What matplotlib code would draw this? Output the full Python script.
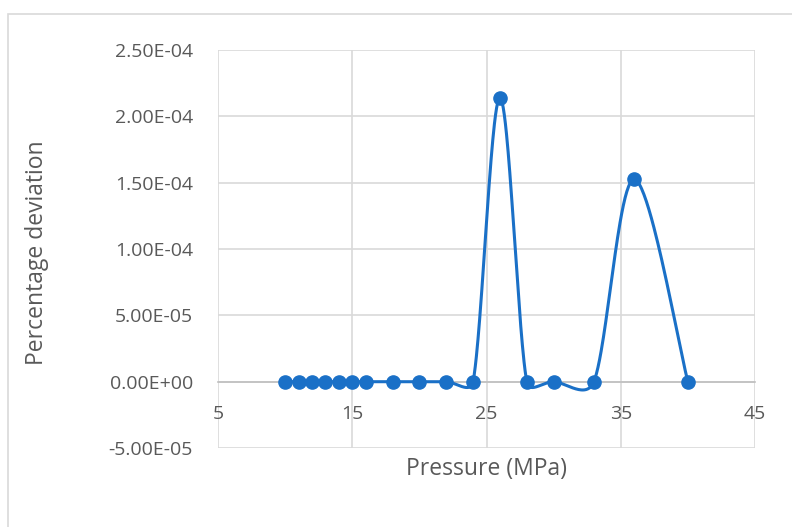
import numpy as np
import matplotlib
matplotlib.use('Agg')
import matplotlib.pyplot as plt
from matplotlib.ticker import FuncFormatter, MultipleLocator
from matplotlib.patches import Rectangle

# данные с картинки
pressure = [10, 11, 12, 13, 14, 15, 16, 18, 20, 22, 24, 26, 28, 30, 33, 36, 40]
deviation = [0, 0, 0, 0, 0, 0, 0, 0, 0, 0, 0, 2.14e-4, 0, 0, 0, 1.525e-4, 0]

plt.rcParams['font.family'] = ['Open Sans', 'DejaVu Sans']

# размер области построения в пикселях
x_min, x_max = 5, 45
y_min, y_max = -5e-5, 2.5e-4
w_px, h_px = 537, 398


# сглаживание как в Excel (кривые Безье, считаем в пикселях)
def smooth(xs, ys, n=50):
    kx = w_px / (x_max - x_min)
    ky = h_px / (y_max - y_min)
    p = np.column_stack([np.array(xs) * kx, np.array(ys) * ky]).astype(float)
    out = []
    for i in range(len(p) - 1):
        p0 = p[i - 1] if i > 0 else p[i]
        p1 = p[i]
        p2 = p[i + 1]
        p3 = p[i + 2] if i + 2 < len(p) else p[i + 1]
        d12 = np.linalg.norm(p2 - p1)
        d02 = np.linalg.norm(p2 - p0)
        d13 = np.linalg.norm(p3 - p1)
        f0 = 1 / 6 if d02 / 6 < d12 / 2 else d12 / d02 / 2
        f3 = 1 / 6 if d13 / 6 < d12 / 2 else d12 / d13 / 2
        c1 = p1 + (p2 - p0) * f0
        c2 = p2 - (p3 - p1) * f3
        t = np.linspace(0, 1, n)[:, None]
        seg = ((1 - t) ** 3 * p1 + 3 * (1 - t) ** 2 * t * c1
               + 3 * (1 - t) * t ** 2 * c2 + t ** 3 * p2)
        out.append(seg if i == 0 else seg[1:])
    out = np.vstack(out)
    return out[:, 0] / kx, out[:, 1] / ky


color = '#1a70c7'
grey = '#595959'

fig = plt.figure(figsize=(7.92, 5.27), dpi=100)
fig.patches.append(Rectangle((8 / 792, -0.1), 1.2, 1 - 14 / 527 + 0.1,
                             transform=fig.transFigure, fill=False,
                             edgecolor='#d9d9d9', linewidth=1.2))
ax = fig.add_axes([218 / 792, 79 / 527, w_px / 792, h_px / 527])

sx, sy = smooth(pressure, deviation)
ax.plot(sx, sy, color=color, linewidth=2.2, zorder=3)
ax.plot(pressure, deviation, 'o', color=color, markersize=9.5, zorder=4)

ax.set_xlim(x_min, x_max)
ax.set_ylim(y_min, y_max)
ax.set_xticks(np.arange(5, 46, 10))
ax.yaxis.set_major_locator(MultipleLocator(5e-5))
ax.yaxis.set_major_formatter(FuncFormatter(lambda v, pos: '{:.2E}'.format(v if abs(v) > 1e-12 else 0)))

ax.grid(True, color='#d9d9d9', linewidth=1.2, zorder=0)
for s in ['top', 'right', 'left']:
    ax.spines[s].set_visible(False)
ax.spines['bottom'].set_position(('data', 0))
ax.spines['bottom'].set_color('#bfbfbf')
ax.spines['bottom'].set_linewidth(1.2)
ax.tick_params(axis='both', length=0, labelsize=14, colors=grey)
ax.tick_params(axis='y', pad=18)
ax.tick_params(axis='x', pad=17)

fig.text(486 / 792, 1 - 469 / 527, 'Pressure (MPa)', ha='center', va='center',
         fontsize=16.5, color=grey)
fig.text(37 / 792, 1 - 253 / 527, 'Percentage deviation', ha='center', va='center',
         rotation=90, fontsize=16.5, color=grey)

fig.savefig('out.png', dpi=100)
